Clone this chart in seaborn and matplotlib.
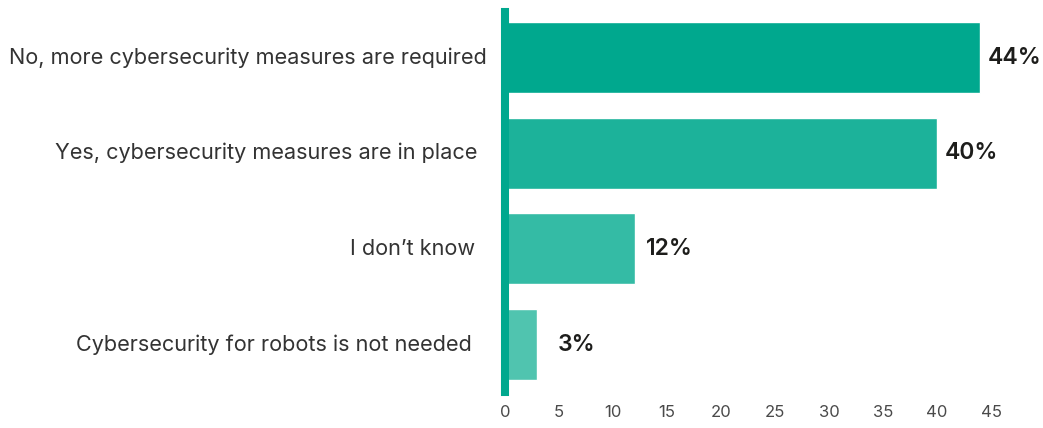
import matplotlib
matplotlib.use("Agg")
import matplotlib.pyplot as plt
import seaborn as sns
import pandas as pd

categories = [
    "No, more cybersecurity measures are required",
    "Yes, cybersecurity measures are in place",
    "I don\u2019t know",
    "Cybersecurity for robots is not needed",
]
values = [44, 40, 12, 3]
colors = ["#00A88E", "#1CB29A", "#34BBA5", "#50C4AF"]
xticks = [0, 5, 10, 15, 20, 25, 30, 35, 40, 45]

sns.set_theme(style="white")
plt.rcParams["font.family"] = ["Inter", "DejaVu Sans"]

df = pd.DataFrame({"answer": categories, "share": values})

fig = plt.figure(figsize=(10.43, 4.28), dpi=100)
ax = fig.add_axes([0.4842, 0.0841, 0.5075, 0.8879])

sns.barplot(data=df, x="share", y="answer", hue="answer", palette=colors,
            width=0.74, legend=False, ax=ax, saturation=1)

# value labels to the right of each bar
label_gap = [7, 8, 11, 20]  # pixel gap between bar end and its label
for i, v in enumerate(values):
    ax.annotate(f"{v}%", xy=(v, i), xytext=(label_gap[i] * 0.72, 0),
                textcoords="offset points", va="center", ha="left",
                fontsize=16.5, fontweight="semibold", color="#1d1d1b")

# category names placed left of the axis line
name_pad = [14, 23, 26, 29]  # pixel distance from axis line
for i, name in enumerate(categories):
    ax.annotate(name, xy=(0, i), xycoords=("axes fraction", "data"),
                xytext=(-name_pad[i] * 0.72 - 3, 0), textcoords="offset points",
                va="center", ha="right", fontsize=15.6, color="#333333",
                annotation_clip=False)

ax.set_xlim(0, 49)
ax.set_ylim(3.496, -0.476)
ax.set_xticks(xticks)
ax.set_xticklabels([str(t) for t in xticks], fontsize=12, color="#4a4a4a")
ax.set_yticks(range(len(categories)))
ax.set_yticklabels([])
ax.tick_params(axis="y", length=0)
ax.tick_params(axis="x", length=0, pad=9)
ax.set_xlabel("")
ax.set_ylabel("")

for side in ["top", "right", "bottom"]:
    ax.spines[side].set_visible(False)
ax.spines["left"].set_color("#00A88E")
ax.spines["left"].set_linewidth(5.8)

fig.savefig("out.png", dpi=100)
